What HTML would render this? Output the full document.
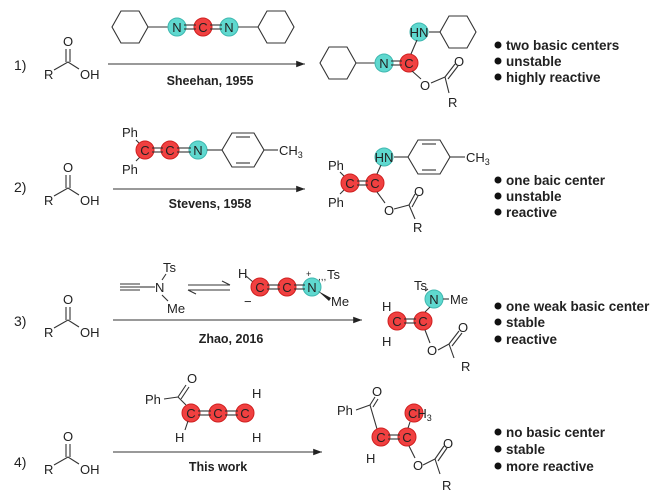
<!DOCTYPE html>
<html><head><meta charset="utf-8"><style>
html,body{margin:0;padding:0;background:#fff;}
svg{display:block;}
text{font-family:"Liberation Sans",Arial,sans-serif;fill:#222;}
.l{font-size:14px;}
.b{font-size:12.5px;font-weight:bold;}
.bb{font-size:13.5px;font-weight:bold;}
.at{font-size:13px;}
line,polyline,polygon.h{stroke:#333;stroke-width:1.1;fill:none;}
.r{fill:#f04040;stroke:#d02020;stroke-width:1;}
.c{fill:#5fd8cf;stroke:#3fb8b0;stroke-width:1;}
</style></head><body>
<svg width="667" height="499" viewBox="0 0 667 499" xmlns="http://www.w3.org/2000/svg">
<defs><marker id="ah" markerWidth="8" markerHeight="6" refX="8" refY="3" orient="auto"><path d="M0,0 L8,3 L0,6 z" fill="#222"/></marker></defs>

<!-- ========== Row 1 ========== -->
<text x="14" y="70" class="l">1)</text>
<g>
<text x="44" y="79" class="at">R</text><text x="80" y="79" class="at">OH</text><text x="63" y="46" class="at">O</text>
<polyline points="54,70 68,62 79,69"/><line x1="66" y1="62" x2="66" y2="49"/><line x1="70" y1="62" x2="70" y2="49"/>
</g>
<line x1="108" y1="64" x2="305" y2="64" marker-end="url(#ah)"/>
<text x="210" y="85" class="b" text-anchor="middle">Sheehan, 1955</text>
<polygon class="h" points="148,27 139,43 121,43 112,27 121,11 139,11"/>
<line x1="148" y1="27" x2="168" y2="27"/>
<circle class="c" cx="177" cy="27" r="9"/><circle class="r" cx="203" cy="27" r="9"/><circle class="c" cx="229" cy="27" r="9"/>
<line x1="184" y1="25" x2="196" y2="25"/><line x1="184" y1="29" x2="196" y2="29"/>
<line x1="210" y1="25" x2="222" y2="25"/><line x1="210" y1="29" x2="222" y2="29"/>
<text x="177" y="32" class="at" text-anchor="middle">N</text><text x="203" y="32" class="at" text-anchor="middle">C</text><text x="229" y="32" class="at" text-anchor="middle">N</text>
<line x1="238" y1="27" x2="258" y2="27"/>
<polygon class="h" points="294,27 285,43 267,43 258,27 267,11 285,11"/>
<!-- product 1 -->
<polygon class="h" points="356,63 347,79 329,79 320,63 329,47 347,47"/>
<line x1="356" y1="63" x2="376" y2="63"/>
<circle class="c" cx="384" cy="63" r="9"/><circle class="r" cx="409" cy="63" r="9"/>
<line x1="391" y1="61" x2="402" y2="61"/><line x1="391" y1="65" x2="402" y2="65"/>
<text x="384" y="68" class="at" text-anchor="middle">N</text><text x="409" y="68" class="at" text-anchor="middle">C</text>
<circle class="c" cx="419" cy="32" r="9"/><text x="419" y="37" class="at" text-anchor="middle">HN</text>
<line x1="411" y1="54" x2="417" y2="40"/><line x1="429" y1="32" x2="440" y2="32"/>
<polygon class="h" points="476,32 467,48 449,48 440,32 449,16 467,16"/>
<line x1="412" y1="71" x2="421" y2="79"/><text x="420" y="90" class="at">O</text>
<line x1="431" y1="83" x2="445" y2="77"/><line x1="445" y1="77" x2="455" y2="64"/><line x1="448" y1="79" x2="458" y2="66"/>
<text x="454" y="66" class="at">O</text><line x1="445" y1="77" x2="449" y2="93"/><text x="448" y="107" class="at">R</text>
<circle cx="498" cy="45" r="3.5" fill="#111"/><text x="506" y="50" class="bb">two basic centers</text>
<circle cx="498" cy="61" r="3.5" fill="#111"/><text x="506" y="66" class="bb">unstable</text>
<circle cx="498" cy="77" r="3.5" fill="#111"/><text x="506" y="82" class="bb">highly reactive</text>

<!-- ========== Row 2 ========== -->
<text x="14" y="192" class="l">2)</text>
<text x="44" y="205" class="at">R</text><text x="80" y="205" class="at">OH</text><text x="63" y="172" class="at">O</text>
<polyline points="54,196 68,188 79,195"/><line x1="66" y1="188" x2="66" y2="175"/><line x1="70" y1="188" x2="70" y2="175"/>
<line x1="113" y1="189" x2="305" y2="189" marker-end="url(#ah)"/>
<text x="210" y="208" class="b" text-anchor="middle">Stevens, 1958</text>
<text x="122" y="137" class="at">Ph</text><text x="122" y="174" class="at">Ph</text>
<line x1="136" y1="140" x2="141" y2="145"/><line x1="136" y1="161" x2="141" y2="156"/>
<circle class="r" cx="145" cy="150" r="9"/><circle class="r" cx="170" cy="150" r="9"/><circle class="c" cx="198" cy="150" r="9"/>
<line x1="152" y1="148" x2="163" y2="148"/><line x1="152" y1="152" x2="163" y2="152"/>
<line x1="177" y1="148" x2="191" y2="148"/><line x1="177" y1="152" x2="191" y2="152"/>
<text x="145" y="155" class="at" text-anchor="middle">C</text><text x="170" y="155" class="at" text-anchor="middle">C</text><text x="198" y="155" class="at" text-anchor="middle">N</text>
<line x1="207" y1="150" x2="222" y2="150"/>
<polygon class="h" points="222,150 232,133 254,133 264,150 254,167 232,167"/>
<line x1="236" y1="137" x2="250" y2="137"/><line x1="236" y1="163" x2="250" y2="163"/>
<line x1="264" y1="150" x2="278" y2="150"/><text x="279" y="155" class="at">CH<tspan font-size="9" dy="3">3</tspan></text>
<!-- product 2 -->
<text x="328" y="170" class="at">Ph</text><text x="328" y="207" class="at">Ph</text>
<line x1="340" y1="172" x2="345" y2="177"/><line x1="340" y1="194" x2="345" y2="189"/>
<circle class="r" cx="350" cy="183" r="9"/><circle class="r" cx="375" cy="183" r="9"/>
<line x1="357" y1="181" x2="368" y2="181"/><line x1="357" y1="185" x2="368" y2="185"/>
<text x="350" y="188" class="at" text-anchor="middle">C</text><text x="375" y="188" class="at" text-anchor="middle">C</text>
<circle class="c" cx="384" cy="157" r="9"/><text x="384" y="162" class="at" text-anchor="middle">HN</text>
<line x1="377" y1="174" x2="381" y2="165"/><line x1="394" y1="157" x2="408" y2="157"/>
<polygon class="h" points="408,157 418,140 440,140 450,157 440,174 418,174"/>
<line x1="422" y1="144" x2="436" y2="144"/><line x1="422" y1="170" x2="436" y2="170"/>
<line x1="450" y1="157" x2="465" y2="157"/><text x="466" y="162" class="at">CH<tspan font-size="9" dy="3">3</tspan></text>
<line x1="377" y1="192" x2="385" y2="203"/><text x="384" y="215" class="at">O</text>
<line x1="394" y1="209" x2="409" y2="205"/><line x1="409" y1="205" x2="415" y2="194"/><line x1="412" y1="207" x2="418" y2="196"/>
<text x="414" y="196" class="at">O</text><line x1="409" y1="205" x2="415" y2="219"/><text x="413" y="232" class="at">R</text>
<circle cx="498" cy="180" r="3.5" fill="#111"/><text x="506" y="185" class="bb">one baic center</text>
<circle cx="498" cy="196" r="3.5" fill="#111"/><text x="506" y="201" class="bb">unstable</text>
<circle cx="498" cy="212" r="3.5" fill="#111"/><text x="506" y="217" class="bb">reactive</text>

<!-- ========== Row 3 ========== -->
<text x="14" y="326" class="l">3)</text>
<text x="44" y="337" class="at">R</text><text x="80" y="337" class="at">OH</text><text x="63" y="304" class="at">O</text>
<polyline points="54,328 68,320 79,327"/><line x1="66" y1="320" x2="66" y2="307"/><line x1="70" y1="320" x2="70" y2="307"/>
<line x1="113" y1="320" x2="362" y2="320" marker-end="url(#ah)"/>
<text x="231" y="343" class="b" text-anchor="middle">Zhao, 2016</text>
<line x1="120" y1="284" x2="140" y2="284"/><line x1="120" y1="287" x2="140" y2="287"/><line x1="120" y1="290" x2="140" y2="290"/>
<line x1="140" y1="287" x2="155" y2="287"/><text x="155" y="292" class="at">N</text>
<line x1="162" y1="280" x2="166" y2="274"/><text x="163" y="272" class="at">Ts</text>
<line x1="162" y1="295" x2="168" y2="301"/><text x="167" y="313" class="at">Me</text>
<line x1="188" y1="285" x2="230" y2="285"/><polyline points="222,281 230,285"/>
<line x1="188" y1="290" x2="230" y2="290"/><polyline points="196,294 188,290"/>
<text x="238" y="278" class="at">H</text><line x1="246" y1="276" x2="253" y2="282"/>
<text x="244" y="306" class="at">−</text>
<circle class="r" cx="260" cy="287" r="9"/><circle class="r" cx="287" cy="287" r="9"/><circle class="c" cx="312" cy="287" r="9"/>
<line x1="267" y1="285" x2="280" y2="285"/><line x1="267" y1="289" x2="280" y2="289"/>
<line x1="294" y1="285" x2="305" y2="285"/><line x1="294" y1="289" x2="305" y2="289"/>
<text x="260" y="292" class="at" text-anchor="middle">C</text><text x="287" y="292" class="at" text-anchor="middle">C</text><text x="312" y="292" class="at" text-anchor="middle">N</text>
<text x="306" y="277" font-size="9">+</text>
<text x="318" y="280" font-size="10">,,,</text><text x="327" y="279" class="at">Ts</text>
<polygon points="318,291 331,298 329,301" fill="#222"/><text x="331" y="306" class="at">Me</text>
<!-- product 3 -->
<text x="414" y="290" class="at">Ts</text><line x1="425" y1="291" x2="428" y2="289"/>
<circle class="c" cx="434" cy="299" r="9"/><text x="434" y="304" class="at" text-anchor="middle">N</text>
<line x1="443" y1="299" x2="449" y2="299"/><text x="450" y="304" class="at">Me</text>
<text x="382" y="311" class="at">H</text><text x="382" y="346" class="at">H</text>
<circle class="r" cx="397" cy="321" r="9"/><circle class="r" cx="423" cy="321" r="9"/>
<line x1="404" y1="319" x2="416" y2="319"/><line x1="404" y1="323" x2="416" y2="323"/>
<text x="397" y="326" class="at" text-anchor="middle">C</text><text x="423" y="326" class="at" text-anchor="middle">C</text>
<line x1="425" y1="312" x2="430" y2="307"/>
<line x1="425" y1="330" x2="430" y2="343"/><text x="427" y="355" class="at">O</text>
<line x1="438" y1="350" x2="449" y2="344"/><line x1="449" y1="344" x2="459" y2="331"/><line x1="452" y1="346" x2="462" y2="333"/>
<text x="458" y="332" class="at">O</text><line x1="449" y1="344" x2="454" y2="358"/><text x="461" y="371" class="at">R</text>
<circle cx="498" cy="306" r="3.5" fill="#111"/><text x="506" y="311" class="bb">one weak basic center</text>
<circle cx="498" cy="322" r="3.5" fill="#111"/><text x="506" y="327" class="bb">stable</text>
<circle cx="498" cy="339" r="3.5" fill="#111"/><text x="506" y="344" class="bb">reactive</text>

<!-- ========== Row 4 ========== -->
<text x="14" y="467" class="l">4)</text>
<text x="44" y="474" class="at">R</text><text x="80" y="474" class="at">OH</text><text x="63" y="441" class="at">O</text>
<polyline points="54,465 68,457 79,464"/><line x1="66" y1="457" x2="66" y2="444"/><line x1="70" y1="457" x2="70" y2="444"/>
<line x1="113" y1="452" x2="322" y2="452" marker-end="url(#ah)"/>
<text x="218" y="471" class="b" text-anchor="middle">This work</text>
<text x="145" y="404" class="at">Ph</text><line x1="164" y1="399" x2="178" y2="397"/>
<text x="187" y="383" class="at">O</text><line x1="178" y1="397" x2="186" y2="385"/><line x1="181" y1="399" x2="189" y2="387"/>
<line x1="178" y1="397" x2="186" y2="405"/>
<circle class="r" cx="191" cy="413" r="9"/><circle class="r" cx="218" cy="413" r="9"/><circle class="r" cx="245" cy="413" r="9"/>
<line x1="198" y1="411" x2="211" y2="411"/><line x1="198" y1="415" x2="211" y2="415"/>
<line x1="225" y1="411" x2="238" y2="411"/><line x1="225" y1="415" x2="238" y2="415"/>
<text x="191" y="418" class="at" text-anchor="middle">C</text><text x="218" y="418" class="at" text-anchor="middle">C</text><text x="245" y="418" class="at" text-anchor="middle">C</text>
<text x="175" y="442" class="at">H</text><line x1="185" y1="430" x2="188" y2="421"/>
<text x="252" y="398" class="at">H</text><text x="252" y="442" class="at">H</text>
<!-- product 4 -->
<text x="337" y="415" class="at">Ph</text><line x1="356" y1="410" x2="370" y2="405"/>
<text x="372" y="396" class="at">O</text><line x1="370" y1="405" x2="375" y2="397"/><line x1="373" y1="407" x2="378" y2="399"/>
<line x1="370" y1="405" x2="377" y2="429"/>
<circle class="r" cx="381" cy="437" r="9"/><circle class="r" cx="407" cy="437" r="9"/><circle class="r" cx="414" cy="413" r="9"/>
<line x1="388" y1="435" x2="400" y2="435"/><line x1="388" y1="439" x2="400" y2="439"/>
<text x="381" y="442" class="at" text-anchor="middle">C</text><text x="407" y="442" class="at" text-anchor="middle">C</text>
<text x="408" y="418" class="at">CH<tspan font-size="9" dy="3">3</tspan></text>
<line x1="408" y1="428" x2="410" y2="422"/>
<text x="366" y="463" class="at">H</text>
<line x1="409" y1="446" x2="415" y2="458"/><text x="413" y="470" class="at">O</text>
<line x1="423" y1="465" x2="435" y2="459"/><line x1="435" y1="459" x2="444" y2="446"/><line x1="438" y1="461" x2="447" y2="448"/>
<text x="443" y="448" class="at">O</text><line x1="435" y1="459" x2="440" y2="474"/><text x="442" y="490" class="at">R</text>
<circle cx="498" cy="432" r="3.5" fill="#111"/><text x="506" y="437" class="bb">no basic center</text>
<circle cx="498" cy="449" r="3.5" fill="#111"/><text x="506" y="454" class="bb">stable</text>
<circle cx="498" cy="466" r="3.5" fill="#111"/><text x="506" y="471" class="bb">more reactive</text>
</svg>
</body></html>
